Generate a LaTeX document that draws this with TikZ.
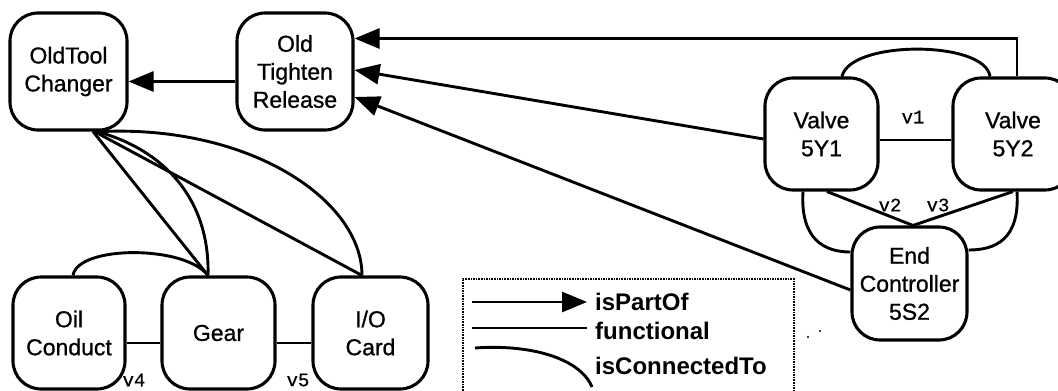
\documentclass[tikz,border=0pt]{standalone}
\usepackage{fontspec}
\setmainfont{Liberation Sans}
\newfontfamily\nodefont[FakeBold=0.9]{Liberation Sans}
\newfontfamily\monofont[FakeBold=0.6]{Liberation Mono}
\usetikzlibrary{arrows.meta,calc}
\begin{document}
\begin{tikzpicture}[x=1pt,y=-1pt,
  box/.style={draw, line width=3.1pt, rounded corners=28pt, align=center, inner sep=0pt,
    font=\nodefont\fontsize{23}{28}\selectfont},
  link/.style={line width=2.9pt},
  part/.style={link, -{Triangle[length=25pt,width=20pt]}},
  lab/.style={font=\monofont\fontsize{19}{19}\selectfont, inner sep=0pt},
  leg/.style={font=\bfseries\fontsize{24}{24}\selectfont, anchor=west, inner sep=0pt}
]
\useasboundingbox (0,0) rectangle (1058,391);
\clip (0,0) rectangle (1058,391);
\fill[white] (0,0) rectangle (1058,391);

% nodes
\node[box, minimum width=117pt, minimum height=117pt] (otc) at (68.5,71.5) {OldTool\\Changer};
\node[box, minimum width=116pt, minimum height=117pt] (otr) at (295,71.5) {Old\\Tighten\\Release};
\node[box, minimum width=113pt, minimum height=112pt] (va) at (821.5,134) {Valve\\5Y1};
\node[box, minimum width=120pt, minimum height=112pt] (vb) at (1013,134) {Valve\\5Y2};
\node[box, minimum width=115pt, minimum height=113pt] (ec) at (909.5,283.5) {End\\Controller\\5S2};
\node[box, minimum width=112pt, minimum height=112pt] (oc) at (69,333) {Oil\\Conduct};
\node[box, minimum width=113pt, minimum height=112pt] (gear) at (218.5,333) {Gear};
\node[box, minimum width=115pt, minimum height=112pt] (io) at (370.5,333) {I/O\\Card};

% isPartOf
\draw[part] ([yshift=-10pt]otr.west) -- ([yshift=-10pt]otc.east);
\draw[part] ([xshift=4pt]vb.north) |- ([yshift=33pt]otr.east);
\draw[part] ([yshift=-5pt]va.west) -- ([yshift=1.5pt]otr.east);
\draw[part] ([yshift=-6.5pt]ec.west) -- ([yshift=-25.5pt]otr.east);

% functional
\draw[link] ([yshift=-6pt]va.east) -- ([yshift=-6pt]vb.west);
\draw[link] ([xshift=5.5pt]va.south) -- ([xshift=3.5pt]ec.north);
\draw[link] (vb.south) -- ([xshift=3.5pt]ec.north);
\draw[link] ([yshift=-10pt]oc.east) -- ([yshift=-10pt]gear.west);
\draw[link] ([yshift=-10pt]gear.east) -- ([yshift=-10pt]io.west);

% isConnectedTo
\draw[link] ([xshift=20.5pt]va.north) .. controls (850,40) and (985,40) .. ([xshift=-23pt]vb.north);
\draw[link] ([xshift=-18.5pt]va.south) .. controls (800,240) and (825,252) .. ([yshift=31.5pt]ec.west);
\draw[link] ([xshift=4pt]vb.south) .. controls (1020,240) and (995,250) .. ([yshift=33.5pt]ec.east);
\draw[link] ([xshift=4pt]oc.north) .. controls (78,245) and (185,245) .. ([xshift=-10.5pt]gear.north);
\draw[link] ([xshift=24.5pt]otc.south) -- ([xshift=-10.5pt]gear.north);
\draw[link] ([xshift=28.5pt]otc.south) .. controls (165,150) and (210,200) .. ([xshift=-10.5pt]gear.north);
\draw[link] ([xshift=26pt]otc.south) -- ([xshift=-8.5pt]io.north);
\draw[link] ([xshift=33pt]otc.south) .. controls (250,125) and (362,200) .. ([xshift=-8.5pt]io.north);

% labels
\node[lab] (v1) at (913,117) {v1};
\node[lab] (v2) at (890,205) {v2};
\node[lab] (v3) at (938,205) {v3};
\node[lab] (v4) at (134,380) {v4};
\node[lab] (v5) at (298,380) {v5};

% legend
\node[draw, densely dotted, line width=1.6pt, minimum width=331pt, minimum height=130pt,
  anchor=north west, inner sep=0pt] (legend) at (462,278) {};
\coordinate (l1a) at (472,302); \coordinate (l1b) at (587,302);
\coordinate (l2a) at (472,328); \coordinate (l2b) at (587,328);
\coordinate (l3a) at (475,348); \coordinate (l3b) at (592,387);
\draw[part] (l1a) -- (l1b);
\draw[link] (l2a) -- (l2b);
\draw[link] (l3a) .. controls (530,344) and (580,358) .. (l3b);
\node[leg] (t1) at (595,302) {isPartOf};
\node[leg] (t2) at (595,331) {functional};
\node[leg] (t3) at (595,366) {isConnectedTo};

% specks
\fill (808,337) circle (1.2pt);
\fill (820,331) circle (1.2pt);
\end{tikzpicture}
\end{document}
